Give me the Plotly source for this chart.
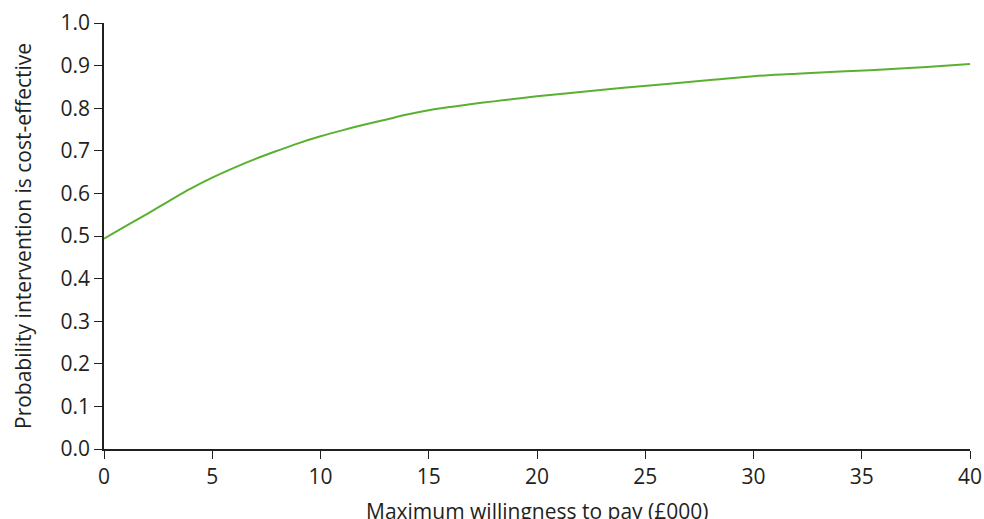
import plotly.graph_objects as go

wtp = [0, 1, 2, 3, 4, 5, 6, 7, 8, 9, 10, 11, 12, 13, 14, 15, 16, 17, 18, 19, 20,
       22, 24, 26, 28, 30, 32, 34, 36, 38, 40]
prob = [0.494, 0.523, 0.552, 0.582, 0.611, 0.637, 0.660, 0.681, 0.700, 0.718, 0.734,
        0.748, 0.761, 0.773, 0.785, 0.795, 0.803, 0.810, 0.816, 0.822, 0.828,
        0.838, 0.848, 0.857, 0.866, 0.875, 0.881, 0.886, 0.891, 0.897, 0.904]

x_ticks = [0, 5, 10, 15, 20, 25, 30, 35, 40]
y_ticks = [0.0, 0.1, 0.2, 0.3, 0.4, 0.5, 0.6, 0.7, 0.8, 0.9, 1.0]
x_title = "Maximum willingness to pay (£000)"
y_title = "Probability intervention is cost-effective"

fig = go.Figure()
fig.add_trace(go.Scatter(x=wtp, y=prob, mode="lines",
                         line=dict(color="#5ab031", width=2, shape="spline"),
                         showlegend=False, cliponaxis=False))

axis_color = "#231f20"
tickfont = dict(family="Open Sans", size=21, color="#231f20")
titlefont = dict(family="Open Sans", size=21, color="#231f20")
fig.update_layout(
    width=984, height=519,
    margin=dict(l=104, r=14, t=23, b=69.5, autoexpand=False),
    paper_bgcolor="white", plot_bgcolor="white",
    font=dict(family="Open Sans", color="#231f20", size=21),
    xaxis=dict(range=[0, 40], tickvals=x_ticks, ticktext=[str(v) for v in x_ticks],
               automargin=False, tickfont=tickfont,
               showgrid=False, zeroline=False, showline=True, linecolor=axis_color,
               linewidth=1.5, ticks="outside", ticklen=8, tickwidth=1.3, tickcolor=axis_color),
    yaxis=dict(range=[0, 1.0], tickvals=y_ticks, ticktext=[f"{v:.1f}" for v in y_ticks],
               automargin=False, tickfont=tickfont,
               showgrid=False, zeroline=False, showline=True, linecolor=axis_color,
               linewidth=1.5, ticks="outside", ticklen=8, tickwidth=1.3, tickcolor=axis_color),
    annotations=[
        dict(text=x_title, xref="paper", yref="paper", x=0.5, y=-0.108,
             xanchor="center", yanchor="top", showarrow=False, font=titlefont),
        dict(text=y_title, xref="paper", yref="paper", x=(23 - 104) / 866, y=0.5,
             xanchor="center", yanchor="middle", textangle=-90, showarrow=False, font=titlefont),
    ],
)
fig.write_html("out.html", config={"displayModeBar": False},
               post_script="document.body.style.margin='0';document.body.style.overflow='hidden';")
